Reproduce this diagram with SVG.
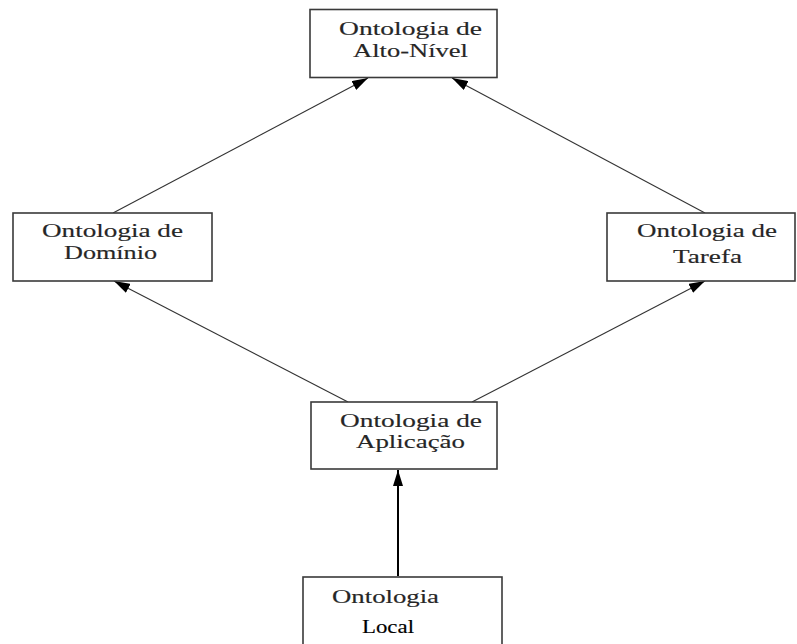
<svg xmlns="http://www.w3.org/2000/svg" width="797" height="644" viewBox="0 0 797 644">
<style>
.box{fill:#fff;stroke:#3a3a3a;stroke-width:1.6}
.t{font-family:"Liberation Serif","Times New Roman",serif;font-size:19px;fill:#262626;stroke:#262626;stroke-width:0.15;text-anchor:middle}
.c{stroke:#333;stroke-width:1.1;fill:none}
.c2{stroke:#000;stroke-width:2;fill:none}
</style>
<defs>
<marker id="ah" viewBox="0 0 16 10" refX="16" refY="5" markerWidth="16" markerHeight="10" markerUnits="userSpaceOnUse" orient="auto">
<path d="M0,0 L16,5 L0,10 Z" fill="#000"/>
</marker>
</defs>
<rect width="797" height="644" fill="#fff"/>
<g id="connectors">
<line class="c" x1="113" y1="213" x2="368" y2="78" marker-end="url(#ah)"/>
<line class="c" x1="705" y1="213" x2="452" y2="78" marker-end="url(#ah)"/>
<line class="c" x1="348" y1="402" x2="114" y2="281" marker-end="url(#ah)"/>
<line class="c" x1="472" y1="402" x2="705" y2="281" marker-end="url(#ah)"/>
<line class="c2" x1="398" y1="576" x2="398" y2="470" marker-end="url(#ah)"/>
</g>
<g id="alto">
<rect class="box" x="310" y="9.5" width="187" height="68"/>
<text class="t" x="410.5" y="35" textLength="143" lengthAdjust="spacingAndGlyphs">Ontologia de</text>
<text class="t" x="410.5" y="57" textLength="115" lengthAdjust="spacingAndGlyphs">Alto-Nível</text>
</g>
<g id="dominio">
<rect class="box" x="13" y="213" width="199" height="68"/>
<text class="t" x="112.5" y="237" textLength="141" lengthAdjust="spacingAndGlyphs">Ontologia de</text>
<text class="t" x="110.5" y="259" textLength="93" lengthAdjust="spacingAndGlyphs">Domínio</text>
</g>
<g id="tarefa">
<rect class="box" x="607" y="213" width="188" height="68"/>
<text class="t" x="707" y="237" textLength="140" lengthAdjust="spacingAndGlyphs">Ontologia de</text>
<text class="t" x="707.5" y="263" textLength="69" lengthAdjust="spacingAndGlyphs">Tarefa</text>
</g>
<g id="aplicacao">
<rect class="box" x="311" y="402" width="186" height="67"/>
<text class="t" x="411" y="427" textLength="142" lengthAdjust="spacingAndGlyphs">Ontologia de</text>
<text class="t" x="410.5" y="448" textLength="109" lengthAdjust="spacingAndGlyphs">Aplicação</text>
</g>
<g id="local">
<rect class="box" x="303" y="577" width="199" height="80"/>
<text class="t" x="385.5" y="603" textLength="107" lengthAdjust="spacingAndGlyphs">Ontologia</text>
<text class="t" x="388" y="633" textLength="52" lengthAdjust="spacingAndGlyphs" style="fill:#000;stroke:#000">Local</text>
</g>
</svg>
